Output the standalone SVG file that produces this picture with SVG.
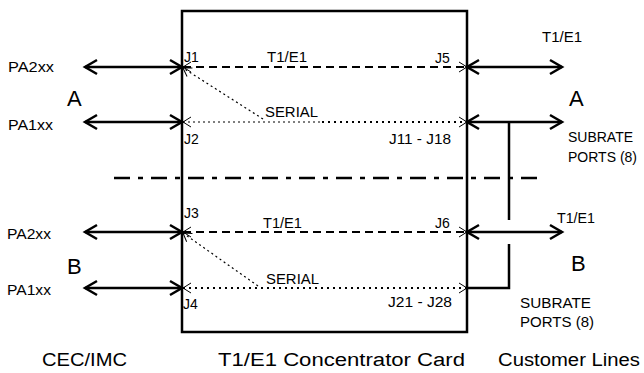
<svg xmlns="http://www.w3.org/2000/svg" width="644" height="373" viewBox="0 0 644 373">
<style>
text{font-family:"Liberation Sans",Arial,sans-serif;fill:#000}
.s{font-size:14px}
.m{font-size:18px}
.l{font-size:22px}
.thick{stroke:#000;stroke-width:2.5;fill:none}
.dash{stroke:#000;stroke-width:2;fill:none;stroke-dasharray:8,5}
.dot{stroke:#000;stroke-width:1.2;fill:none;stroke-dasharray:2,3}
.dotb{stroke:#000;stroke-width:2;fill:none;stroke-dasharray:2,4}
.dd{stroke:#000;stroke-width:2.5;fill:none;stroke-dasharray:16,8,5,8}
.ta{marker-start:url(#big);marker-end:url(#big)}
.tn{marker-start:url(#small);marker-end:url(#small)}
</style>
<defs>
<marker id="big" markerUnits="userSpaceOnUse" viewBox="-14 -9 16 18" refX="0" refY="0" markerWidth="16" markerHeight="18" orient="auto-start-reverse" overflow="visible">
<path d="M-12,-7 L0,0 L-12,7" fill="none" stroke="#000" stroke-width="2.5"/>
</marker>
<marker id="small" markerUnits="userSpaceOnUse" viewBox="-10 -7 12 14" refX="0" refY="0" markerWidth="12" markerHeight="14" orient="auto-start-reverse" overflow="visible">
<path d="M-8,-5 L0,0 L-8,5" fill="none" stroke="#000" stroke-width="1"/>
</marker>
</defs>

<g id="card">
<rect x="182" y="11" width="285" height="321" fill="none" stroke="#000" stroke-width="2.5"/>
<text class="m" x="218" y="366" textLength="247" lengthAdjust="spacingAndGlyphs">T1/E1 Concentrator Card</text>
</g>

<g id="cec">
<text class="s" x="8" y="72" textLength="46" lengthAdjust="spacingAndGlyphs">PA2xx</text>
<text class="l" x="67" y="106">A</text>
<text class="s" x="8" y="130" textLength="45" lengthAdjust="spacingAndGlyphs">PA1xx</text>
<text class="s" x="7" y="239" textLength="44" lengthAdjust="spacingAndGlyphs">PA2xx</text>
<text class="l" x="67" y="274">B</text>
<text class="s" x="7" y="295" textLength="44" lengthAdjust="spacingAndGlyphs">PA1xx</text>
<text class="m" x="42" y="366" textLength="85" lengthAdjust="spacingAndGlyphs">CEC/IMC</text>
</g>

<g id="customer">
<text class="s" x="542" y="42" textLength="40" lengthAdjust="spacingAndGlyphs">T1/E1</text>
<text class="l" x="569" y="106">A</text>
<text class="s" x="568" y="142" textLength="65" lengthAdjust="spacingAndGlyphs">SUBRATE</text>
<text class="s" x="568" y="162" textLength="69" lengthAdjust="spacingAndGlyphs">PORTS (8)</text>
<text class="s" x="557" y="223" textLength="38" lengthAdjust="spacingAndGlyphs">T1/E1</text>
<text class="l" x="571" y="271">B</text>
<text class="s" x="520" y="308" textLength="71" lengthAdjust="spacingAndGlyphs">SUBRATE</text>
<text class="s" x="520" y="327" textLength="74" lengthAdjust="spacingAndGlyphs">PORTS (8)</text>
<text class="m" x="498" y="366" textLength="142" lengthAdjust="spacingAndGlyphs">Customer Lines</text>
</g>

<g id="ports">
<text class="s" x="184" y="62">J1</text>
<text class="s" x="184" y="144">J2</text>
<text class="s" x="184" y="218">J3</text>
<text class="s" x="183" y="309">J4</text>
<text class="s" x="435" y="63">J5</text>
<text class="s" x="435" y="228">J6</text>
<text class="s" x="389" y="144" textLength="62" lengthAdjust="spacingAndGlyphs">J11 - J18</text>
<text class="s" x="388" y="307" textLength="64" lengthAdjust="spacingAndGlyphs">J21 - J28</text>
<text class="s" x="267" y="62" textLength="40" lengthAdjust="spacingAndGlyphs">T1/E1</text>
<text class="s" x="265" y="117" textLength="53" lengthAdjust="spacingAndGlyphs">SERIAL</text>
<text class="s" x="263" y="228" textLength="39" lengthAdjust="spacingAndGlyphs">T1/E1</text>
<text class="s" x="266" y="284" textLength="53" lengthAdjust="spacingAndGlyphs">SERIAL</text>
</g>

<g id="connectors">
<line class="thick ta" x1="85" y1="67" x2="182" y2="67"/>
<line class="thick ta" x1="85" y1="122" x2="182" y2="122"/>
<line class="thick ta" x1="85" y1="232" x2="182" y2="232"/>
<line class="thick ta" x1="85" y1="288" x2="182" y2="288"/>
<line class="thick ta" x1="467" y1="67" x2="562" y2="67"/>
<line class="thick ta" x1="467" y1="122" x2="562" y2="122"/>
<line class="thick ta" x1="467" y1="232" x2="562" y2="232"/>

<line class="dash tn" x1="183" y1="67" x2="467" y2="67"/>
<line class="dash tn" x1="183" y1="232" x2="467" y2="232"/>
<line class="dot" x1="183" y1="122" x2="322" y2="122" marker-start="url(#small)"/>
<line class="dotb" x1="322" y1="122" x2="467" y2="122" marker-end="url(#small)"/>
<line class="dotb tn" x1="183" y1="288" x2="467" y2="288"/>
<line class="dot" x1="263" y1="119" x2="183" y2="68" marker-end="url(#small)"/>
<line class="dot" x1="258" y1="286" x2="183" y2="233" marker-end="url(#small)"/>

<line class="dd" x1="114" y1="178" x2="543" y2="178"/>

<polyline class="thick" points="509,122 509,220"/>
<polyline class="thick" points="509,244 509,288 467,288"/>
</g>
</svg>
